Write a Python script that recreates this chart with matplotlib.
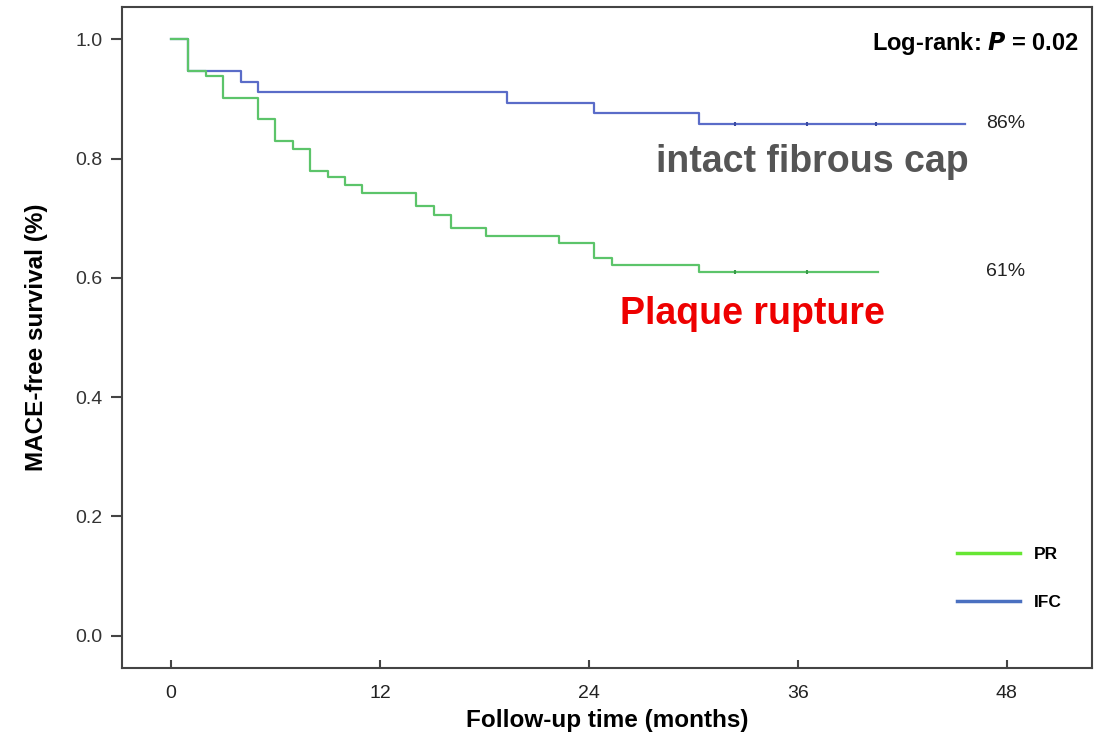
import matplotlib
matplotlib.use("Agg")
import matplotlib.pyplot as plt
from matplotlib.lines import Line2D

plt.rcParams['font.family'] = ['Liberation Sans', 'DejaVu Sans']

# Kaplan-Meier step data
pr_times = [0, 1, 2, 3, 5, 6, 7, 8, 9, 10, 11, 14.1, 15.1, 16.1, 18.1, 22.3, 24.3, 25.3, 30.3, 40.6]
pr_surv = [1.0, 0.947, 0.939, 0.901, 0.866, 0.829, 0.817, 0.779, 0.769, 0.756, 0.743,
           0.720, 0.706, 0.683, 0.670, 0.658, 0.634, 0.622, 0.610, 0.610]
pr_cens = [32.4, 36.5]

ifc_times = [0, 1, 4, 5, 19.3, 24.3, 30.3, 45.6]
ifc_surv = [1.0, 0.947, 0.929, 0.912, 0.894, 0.877, 0.859, 0.859]
ifc_cens = [32.4, 36.5, 40.5]

x_ticks = [0, 12, 24, 36, 48]
y_ticks = [0.0, 0.2, 0.4, 0.6, 0.8, 1.0]

pr_color = '#5cc46a'
ifc_color = '#5a6cc8'

fig = plt.figure(figsize=(11.1, 7.38), dpi=100)
ax = fig.add_axes([0.110, 0.095, 0.874, 0.896])

ax.step(ifc_times, ifc_surv, where='post', color=ifc_color, lw=1.6)
ax.step(pr_times, pr_surv, where='post', color=pr_color, lw=1.6)
ax.plot(ifc_cens, [ifc_surv[-1]] * len(ifc_cens), ls='none', marker='|',
        ms=3, color='#3a4aa0', mew=1.5)
ax.plot(pr_cens, [pr_surv[-1]] * len(pr_cens), ls='none', marker='|',
        ms=3, color='#3a9a4a', mew=1.5)

ax.set_xlim(-2.8, 52.9)
ax.set_ylim(-0.054, 1.055)
ax.set_xticks(x_ticks)
ax.set_yticks(y_ticks)
ax.set_yticklabels([f'{v:.1f}' for v in y_ticks])
ax.tick_params(axis='x', direction='in', length=6, width=1.5, color='#444444',
               labelsize=14, pad=12, labelcolor='#222222')
ax.tick_params(axis='y', direction='out', length=8, width=1.5, color='#444444',
               labelsize=14, pad=6, labelcolor='#333333')
for s in ax.spines.values():
    s.set_linewidth(1.5)
    s.set_color('#444444')

ax.set_xlabel('Follow-up time (months)', fontsize=17.5, fontweight='bold', labelpad=5)
ax.set_ylabel('MACE-free survival (%)', fontsize=17.5, fontweight='bold', labelpad=20)

ax.text(0.986, 0.945, r'Log-rank: $\boldsymbol{P}$ = 0.02', transform=ax.transAxes,
        ha='right', va='center', fontsize=17, fontweight='bold')
ax.text(46.8, ifc_surv[-1], '86%', fontsize=14, va='center', color='#222222')
ax.text(46.8, pr_surv[-1], '61%', fontsize=14, va='center', color='#222222')
ax.text(45.8, 0.794, 'intact fibrous cap', fontsize=27, fontweight='bold',
        color='#555555', ha='right', va='center')
ax.text(41.0, 0.539, 'Plaque rupture', fontsize=27, fontweight='bold',
        color='#ee0000', ha='right', va='center')

handles = [Line2D([], [], color='#66e633', lw=2.5),
           Line2D([], [], color='#4a70c0', lw=2.5)]
ax.legend(handles, ['PR', 'IFC'], loc='center left', bbox_to_anchor=(0.845, 0.135),
          frameon=False, handlelength=3.6, labelspacing=1.9,
          prop={'weight': 'bold', 'size': 12.5})

fig.savefig('out.png', dpi=100)
